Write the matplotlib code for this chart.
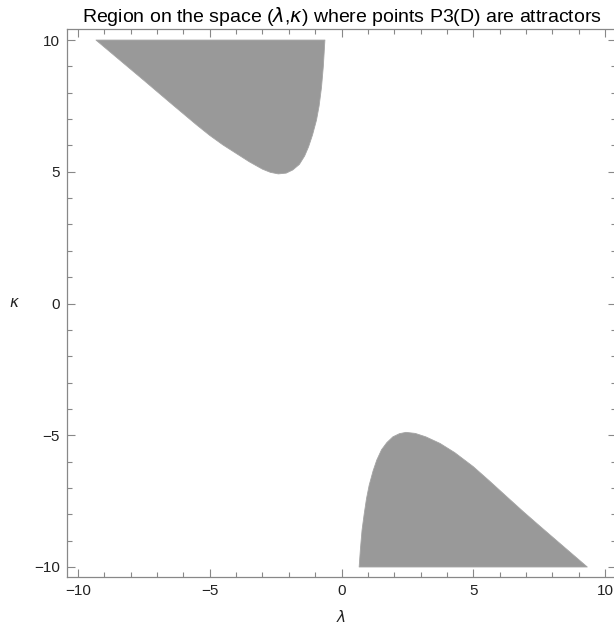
import matplotlib
matplotlib.use("Agg")
from matplotlib import pyplot as plt
from matplotlib.ticker import MultipleLocator

TITLE = "Region on the space ($\\lambda$,$\\kappa$) where points P3(D) are attractors"

# upper-left region, boundary (lambda, kappa)
upper_lam = [-9.32, -8.5, -7.5, -6.5, -5.5, -5.0, -4.5, -4.0, -3.5, -3.0, -2.7,
             -2.4, -2.1, -1.85, -1.6, -1.4, -1.25, -1.1, -0.95, -0.85, -0.76,
             -0.69, -0.63]
upper_kap = [10.0, 9.31, 8.47, 7.62, 6.78, 6.38, 6.02, 5.70, 5.38, 5.10, 4.98,
             4.92, 4.95, 5.07, 5.28, 5.60, 5.95, 6.40, 6.96, 7.50, 8.20,
             9.00, 10.0]

# lower-right region
lower_lam = [0.67, 0.72, 0.78, 0.86, 0.95, 1.05, 1.2, 1.34, 1.52, 1.72, 1.95,
             2.2, 2.45, 2.8, 3.2, 3.74, 4.3, 5.0, 5.6, 6.27, 6.9, 7.53, 8.4, 9.33]
lower_kap = [-10.0, -9.3, -8.6, -8.0, -7.4, -6.9, -6.35, -5.94, -5.55, -5.28, -5.06,
             -4.94, -4.89, -4.93, -5.06, -5.31, -5.66, -6.19, -6.72, -7.33, -7.90,
             -8.45, -9.20, -10.0]

major = [-10, -5, 0, 5, 10]


def main():
    plt.rcParams["font.family"] = ["Liberation Sans", "DejaVu Sans"]
    plt.rcParams["mathtext.fontset"] = "dejavusans"
    fig = plt.figure(figsize=(6.14, 6.31), dpi=100)
    ax = fig.add_axes([67 / 614, 1 - 577 / 631, 549 / 614, 548 / 631])

    fillc = "#999999"
    ax.fill(upper_lam + [upper_lam[0]], upper_kap + [upper_kap[0]],
            color=fillc, lw=0.6, ec="#a4a4a4", joinstyle="round")
    ax.fill(lower_lam + [lower_lam[0]], lower_kap + [lower_kap[0]],
            color=fillc, lw=0.6, ec="#a4a4a4", joinstyle="round")

    ax.set_xlim(-10.42, 10.42)
    ax.set_ylim(-10.38, 10.42)
    ax.set_xticks(major)
    ax.set_yticks(major)
    ax.set_xticklabels([str(v).replace("-", "\u2212") for v in major])
    ax.set_yticklabels([str(v).replace("-", "\u2212") for v in major])
    ax.xaxis.set_minor_locator(MultipleLocator(1))
    ax.yaxis.set_minor_locator(MultipleLocator(1))

    frame = "#888888"
    for s in ax.spines.values():
        s.set_color(frame)
        s.set_linewidth(0.9)
    ax.tick_params(which="both", direction="in", top=True, right=True,
                   color=frame, width=0.8, labelsize=11, labelcolor="#222222")
    ax.tick_params(which="major", length=6, pad=5)
    ax.tick_params(which="minor", length=3.5)

    ax.set_xlabel("$\\lambda$", fontsize=11, labelpad=8, color="#222222")
    ax.set_ylabel("$\\kappa$", fontsize=11, labelpad=14, rotation=0,
                  color="#222222", va="center")
    ax.set_title(TITLE, fontsize=14, pad=5)

    fig.savefig("out.png", dpi=100)


if __name__ == "__main__":
    main()
